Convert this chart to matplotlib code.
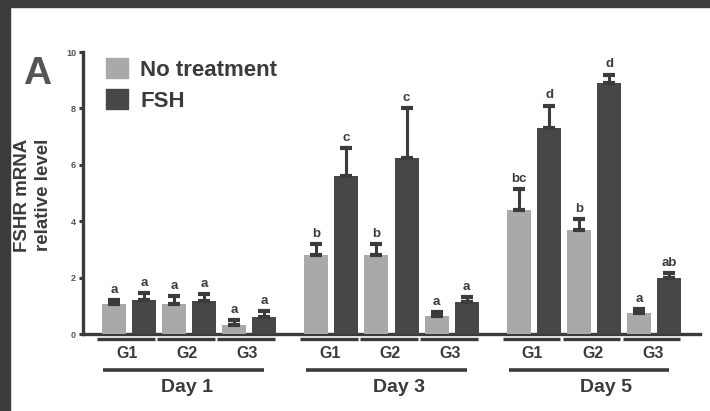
import matplotlib
matplotlib.use("Agg")
from matplotlib import pyplot as plt
from matplotlib.patches import Patch, Rectangle

# values (FSHR mRNA relative level)
days = ["Day 1", "Day 3", "Day 5"]
groups = ["G1", "G2", "G3"]
nt_mean = [1.06, 1.06, 0.32, 2.8, 2.8, 0.65, 4.4, 3.7, 0.75]
nt_err = [0.15, 0.29, 0.18, 0.4, 0.4, 0.12, 0.75, 0.38, 0.12]
fsh_mean = [1.2, 1.17, 0.6, 5.6, 6.25, 1.15, 7.3, 8.9, 2.0]
fsh_err = [0.25, 0.25, 0.2, 1.0, 1.75, 0.17, 0.8, 0.3, 0.15]
nt_letters = ["a", "a", "a", "b", "b", "a", "bc", "b", "a"]
fsh_letters = ["a", "a", "a", "c", "c", "a", "d", "d", "ab"]

nt_color = "#a9a9a9"
fsh_color = "#474747"
ink = "#3b3b3b"
W, H = 710, 411

plt.rcParams["font.family"] = ["Liberation Sans", "DejaVu Sans"]
plt.rcParams["font.weight"] = "bold"

fig = plt.figure(figsize=(W / 100, H / 100), dpi=100)
fig.patch.set_facecolor("white")
# dark scan border (top and left)
fig.patches.append(Rectangle((0, 1 - 7 / H), 1, 7 / H, transform=fig.transFigure, color=ink, zorder=0))
fig.patches.append(Rectangle((0, 0), 10 / W, 1, transform=fig.transFigure, color=ink, zorder=0))

ax = fig.add_axes([83 / W, (H - 334) / H, (700 - 83) / W, 282 / H])

# positions: pairs 1 unit apart, groups 2 units, days 6.75 units
day_step = 6.75
x_nt = []
for d in range(len(days)):
    for g in range(len(groups)):
        x_nt.append(d * day_step + g * 2)
x_fsh = [x + 1 for x in x_nt]

ax.bar(x_nt, nt_mean, width=0.8, color=nt_color, zorder=3, label="No treatment")
ax.bar(x_fsh, fsh_mean, width=0.8, color=fsh_color, zorder=3, label="FSH")
zeros = [0] * len(nt_err)
ax.errorbar(x_nt, nt_mean, yerr=[zeros, nt_err], fmt="none", ecolor=ink,
            elinewidth=2.2, capsize=4.5, capthick=3, zorder=4)
ax.errorbar(x_fsh, fsh_mean, yerr=[zeros, fsh_err], fmt="none", ecolor=ink,
            elinewidth=2.2, capsize=4.5, capthick=3, zorder=4)

for xs, ms, es, ls in [(x_nt, nt_mean, nt_err, nt_letters), (x_fsh, fsh_mean, fsh_err, fsh_letters)]:
    for x, m, e, lab in zip(xs, ms, es, ls):
        ax.annotate(lab, (x, m + e), xytext=(0, 3), textcoords="offset points",
                    ha="center", va="bottom", fontsize=9.5, color=ink)

ax.set_xlim(-1.03, 19.53)
ax.set_ylim(0, 10)
ax.set_yticks([0, 2, 4, 6, 8, 10])
ax.set_xticks([])
for s in ["top", "right"]:
    ax.spines[s].set_visible(False)
for s in ["left", "bottom"]:
    ax.spines[s].set_linewidth(2.4)
    ax.spines[s].set_color(ink)
ax.tick_params(axis="y", length=3, width=2.2, color=ink, labelsize=6.5, labelcolor="#555555", pad=2)

# group / day underlines and labels below the axis
day_label_pos = [2.45, 2.75, 2.9]
tr = ax.get_xaxis_transform()
for d, day in enumerate(days):
    x0 = d * day_step
    for g, grp in enumerate(groups):
        gx = x0 + g * 2
        ax.plot([gx - 0.55, gx + 1.38], [-0.018, -0.018], transform=tr, clip_on=False,
                color=ink, lw=2.4, solid_capstyle="butt")
        ax.text(gx + 0.45, -0.07, grp, transform=tr, ha="center", va="center",
                fontsize=11.5, color=ink)
    ax.plot([x0 - 0.35, x0 + 5.0], [-0.128, -0.128], transform=tr, clip_on=False,
            color=ink, lw=2.6, solid_capstyle="butt")
    ax.text(x0 + day_label_pos[d], -0.19, day, transform=tr, ha="center", va="center",
            fontsize=14, color=ink)

handles = [Patch(color=nt_color), Patch(color=fsh_color)]
fig.legend(handles, ["No treatment", "FSH"], loc="upper left",
           bbox_to_anchor=(106 / W, 1 - 58 / H), frameon=False, fontsize=16,
           handlelength=1.0, handleheight=1.0, handletextpad=0.55, labelspacing=0.4,
           borderpad=0, borderaxespad=0, labelcolor=ink)

fig.text(37 / W, 1 - 74 / H, "A", fontsize=28, color="#555555", ha="center", va="center")
fig.text(33 / W, 1 - 195 / H, "FSHR mRNA\nrelative level", rotation=90, ha="center",
         va="center", fontsize=13.5, color=ink, linespacing=1.35, multialignment="center")

fig.savefig("out.png", dpi=100)
